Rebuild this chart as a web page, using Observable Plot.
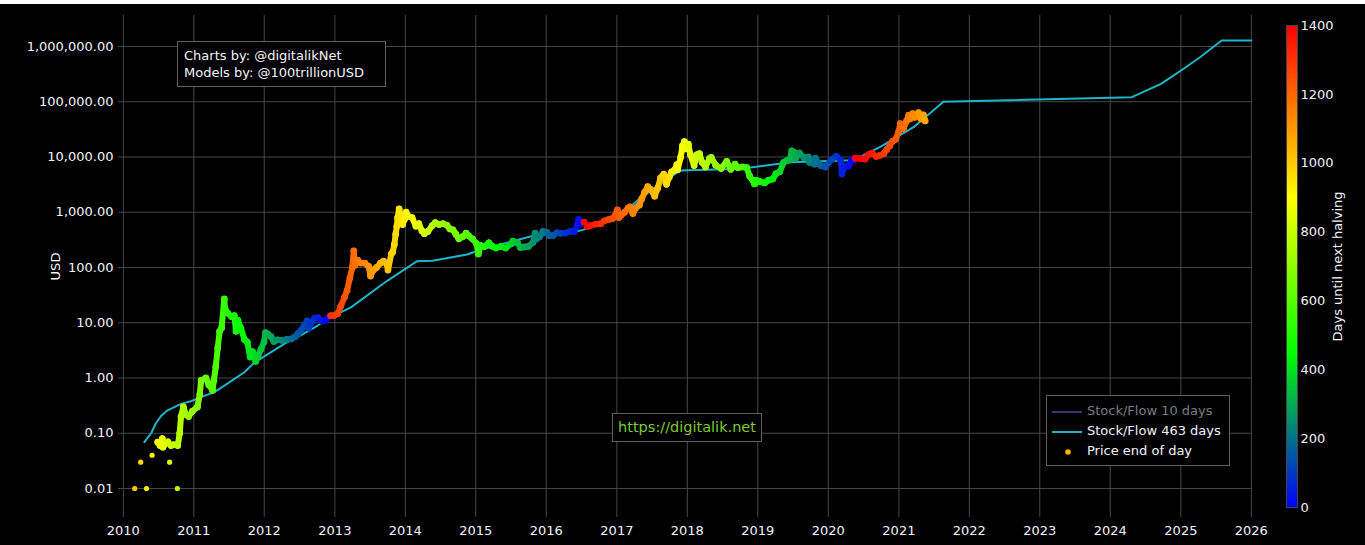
<!DOCTYPE html>
<html>
<head>
<meta charset="utf-8">
<script src="https://cdn.jsdelivr.net/npm/d3@7"></script>
<script src="https://cdn.jsdelivr.net/npm/@observablehq/plot@0.6"></script>
<style>
  html, body { margin: 0; padding: 0; background: #ffffff; }
  #wrap { position: absolute; left: 0; top: 4px; width: 1365px; height: 541px; background: #000; overflow: hidden;
          font-family: "DejaVu Sans", sans-serif; font-size: 13px; color: #f2f5fa; }
  .abs { position: absolute; }
  .box { position: absolute; border: 1px solid #5f5f5f; background: #000; box-sizing: border-box; }
</style>
</head>
<body>
<div id="wrap"></div>
<script>
// ---------- data ----------
const halvingDates = ["2012-11-28", "2016-07-09", "2020-05-11", "2024-04-20"];

// isolated early price points (end of day)
const earlyDates  = ["2010-03-01","2010-04-01","2010-05-01","2010-05-30","2010-08-29","2010-10-08"];
const earlyPrices = [0.01, 0.03, 0.01, 0.04, 0.03, 0.01];

// price end of day
const priceDates = [
"2010-06-28","2010-07-10","2010-07-22","2010-07-25","2010-08-10","2010-08-20","2010-09-05","2010-09-20","2010-10-10","2010-10-20",
"2010-10-27","2010-11-08","2010-11-20","2010-12-05","2010-12-25","2011-01-20","2011-02-01","2011-02-08","2011-03-05","2011-03-20",
"2011-04-08","2011-04-15","2011-04-25","2011-05-05","2011-05-15","2011-05-25","2011-06-08","2011-06-12","2011-06-25","2011-07-15",
"2011-07-30","2011-08-08","2011-08-18","2011-09-02","2011-09-20","2011-10-05","2011-10-20","2011-11-01","2011-11-18","2011-12-01",
"2011-12-15","2011-12-31","2012-01-08","2012-01-20","2012-02-05","2012-02-20","2012-03-10","2012-04-01","2012-04-25","2012-05-20",
"2012-06-10","2012-06-25","2012-07-10","2012-07-25","2012-08-10","2012-08-18","2012-09-01","2012-09-18","2012-10-05","2012-10-25",
"2012-11-15","2012-11-27","2012-12-10","2012-12-28","2013-01-15","2013-02-01","2013-02-20","2013-03-05","2013-03-20","2013-04-01",
"2013-04-09","2013-04-15","2013-04-30","2013-05-15","2013-06-05","2013-06-25","2013-07-05","2013-07-20","2013-08-05","2013-08-25",
"2013-09-10","2013-09-30","2013-10-03","2013-10-20","2013-10-28","2013-11-05","2013-11-12","2013-11-18","2013-11-22","2013-11-30",
"2013-12-07","2013-12-18","2013-12-28","2014-01-05","2014-01-15","2014-02-05","2014-02-25","2014-03-12","2014-03-28","2014-04-10",
"2014-04-28","2014-05-20","2014-06-05","2014-06-25","2014-07-15","2014-08-05","2014-08-20","2014-09-05","2014-09-20","2014-10-05",
"2014-10-25","2014-11-12","2014-11-25","2014-12-15","2015-01-05","2015-01-14","2015-01-25","2015-02-15","2015-03-10","2015-03-25",
"2015-04-15","2015-05-10","2015-06-05","2015-07-05","2015-07-12","2015-08-05","2015-08-20","2015-09-10","2015-10-01","2015-10-25",
"2015-11-04","2015-11-12","2015-11-28","2015-12-15","2016-01-05","2016-01-16","2016-02-05","2016-02-25","2016-03-15","2016-04-10",
"2016-05-05","2016-05-25","2016-06-10","2016-06-17","2016-06-25","2016-07-08","2016-07-15","2016-08-02","2016-08-20","2016-09-15",
"2016-10-10","2016-10-28","2016-11-20","2016-12-10","2016-12-28","2017-01-04","2017-01-12","2017-01-25","2017-02-10","2017-02-28",
"2017-03-10","2017-03-25","2017-04-10","2017-04-28","2017-05-10","2017-05-25","2017-06-10","2017-06-25","2017-07-16","2017-08-01",
"2017-08-15","2017-09-01","2017-09-15","2017-09-30","2017-10-12","2017-10-25","2017-11-08","2017-11-12","2017-11-28","2017-12-07",
"2017-12-17","2017-12-22","2018-01-06","2018-01-17","2018-02-05","2018-02-20","2018-03-05","2018-03-18","2018-04-05","2018-04-25",
"2018-05-05","2018-05-28","2018-06-25","2018-07-24","2018-08-14","2018-09-05","2018-09-20","2018-10-15","2018-11-05","2018-11-20",
"2018-12-15","2018-12-25","2019-01-10","2019-02-05","2019-02-25","2019-03-20","2019-04-05","2019-04-25","2019-05-15","2019-05-30",
"2019-06-15","2019-06-26","2019-07-10","2019-07-17","2019-08-05","2019-08-28","2019-09-20","2019-09-26","2019-10-22","2019-10-26",
"2019-11-22","2019-12-17","2020-01-14","2020-02-12","2020-03-05","2020-03-12","2020-03-25","2020-04-15","2020-04-30","2020-05-10",
"2020-05-20","2020-06-15","2020-07-10","2020-07-28","2020-08-15","2020-09-05","2020-09-25","2020-10-15","2020-10-30","2020-11-15",
"2020-11-30","2020-12-16","2020-12-31","2021-01-08","2021-01-25","2021-02-10","2021-02-21","2021-03-01","2021-03-13","2021-03-25",
"2021-04-13","2021-04-25","2021-05-08","2021-05-12","2021-05-17"];
const priceValues = [
0.069,0.06,0.08,0.056,0.066,0.07,0.06,0.062,0.06,0.1,
0.2,0.3,0.22,0.2,0.25,0.3,0.5,0.9,1.0,0.75,
0.6,0.9,1.6,3.5,7,8,27,18,15,13,
13.5,7,11,8,5,4.5,2.4,3.0,2.0,2.6,
3.3,4.5,6.6,6.2,5.6,4.6,4.9,4.8,5.0,5.1,
5.6,6.4,7.3,8.8,10.8,8.0,10,12,12.4,10.8,
11.2,12.4,13.4,13.5,14.5,20,29,38,65,100,
200,110,135,120,120,105,70,90,100,120,
130,110,90,175,190,260,400,560,800,1150,
900,600,750,1000,850,800,560,620,460,410,
450,570,650,600,620,580,500,480,400,330,
360,420,375,330,270,175,250,240,280,245,
225,240,225,270,300,280,230,235,240,285,
420,330,360,450,430,380,380,425,415,420,
450,450,580,740,620,640,660,550,580,610,
620,700,740,770,950,1100,800,900,1000,1190,
1250,950,1200,1350,1750,2300,2900,2600,1950,2750,
4200,4900,3200,4350,5400,5700,7300,5900,10000,16000,
19000,14000,17000,11000,7000,11000,11500,8000,6600,9300,
9800,7100,6200,8300,6000,7400,6400,6600,6400,4500,
3250,3800,3600,3400,3800,4000,5000,5400,8000,8600,
8800,12900,12000,9500,11800,9700,10000,8000,7400,9500,
7000,6600,8800,10300,9000,4900,6700,6800,8700,8700,
9500,9400,9200,11000,11800,10200,10700,11500,13600,16000,
19400,21000,29000,40000,32500,45000,57000,49000,61000,52500,
63500,49000,58000,49000,45000];

// Stock/Flow 463 days model line
const s2fDates = [
"2010-04-20","2010-05-25","2010-06-18","2010-07-18","2010-08-18","2010-10-27","2010-12-17","2011-02-06","2011-04-16","2011-06-24",
"2011-09-20","2011-11-10","2012-01-20","2012-04-16","2012-07-08","2012-10-04","2012-11-28","2013-03-25","2013-10-01","2014-03-03",
"2014-05-22","2014-11-17","2015-01-26","2015-10-30","2016-05-25","2016-07-09","2017-01-08","2017-05-05","2017-11-25","2018-10-05",
"2019-06-20","2020-04-26","2020-05-11","2020-09-27","2021-03-20","2021-08-20","2024-04-22","2024-09-20","2025-01-15","2025-04-12",
"2025-07-31","2026-01-01"];
const s2fValues = [
0.069,0.1,0.15,0.21,0.26,0.34,0.38,0.45,0.55,0.79,
1.27,1.9,2.7,4.2,5.9,8.9,12,19,58,130,
132,172,209,380,440,480,810,1830,5700,6100,
8050,8700,8800,15200,35000,100000,121000,211000,395000,645000,
1280000,1280000];

const xTickLabels = ["2010","2011","2012","2013","2014","2015","2016","2017","2018","2019","2020","2021","2022","2023","2024","2025","2026"];
const yTickValues = [0.01, 0.1, 1, 10, 100, 1000, 10000, 100000, 1000000];
const colorTicks = [0, 200, 400, 600, 800, 1000, 1200, 1400];

// ---------- derived tables ----------
const parse = s => new Date(s + "T00:00:00Z");
const halvings = halvingDates.map(parse);
const daysUntil = d => {
  const h = halvings.find(h => h > d);
  return (h - d) / 864e5;
};
const trail = priceDates.map((s, i) => {
  const date = parse(s);
  return {date, price: priceValues[i], days: daysUntil(date)};
});
const early = earlyDates.map((s, i) => {
  const date = parse(s);
  return {date, price: earlyPrices[i], days: daysUntil(date)};
});
const segments = trail.slice(0, -1).map((d, i) => ({
  x1: d.date, y1: d.price, x2: trail[i + 1].date, y2: trail[i + 1].price, days: d.days
}));
const s2f = s2fDates.map((s, i) => ({date: parse(s), value: s2fValues[i]}));
const xTicks = xTickLabels.map(y => parse(y + "-01-01"));

const colorScale = {
  type: "linear", domain: [0, 447, 900, 1400],
  range: ["#0000ff", "#00ff00", "#ffff00", "#ff0000"], interpolate: "rgb"
};
const textStyle = {background: "transparent", color: "#f2f5fa", fontFamily: "DejaVu Sans", fontSize: "13px", overflow: "visible"};

// ---------- main chart ----------
const main = Plot.plot({
  width: 1365, height: 541,
  marginLeft: 118, marginRight: 113, marginTop: 11, marginBottom: 28,
  style: textStyle,
  x: {type: "utc", domain: [parse("2009-12-07"), parse("2026-01-07")], ticks: xTicks, tickFormat: "%Y",
      tickSize: 0, tickPadding: 8, label: null},
  y: {type: "log", domain: [0.002985, 3.64e6], ticks: yTickValues, tickFormat: d3.format(",.2f"),
      tickSize: 0, tickPadding: 5, label: "USD", labelAnchor: "center", labelOffset: 68, labelArrow: "none"},
  color: colorScale,
  marks: [
    Plot.gridX(xTicks, {stroke: "#474747", strokeOpacity: 1}),
    Plot.gridY(yTickValues, {stroke: "#474747", strokeOpacity: 1}),
    Plot.line(s2f, {x: "date", y: "value", stroke: "#1fb5c9", strokeWidth: 2}),
    Plot.link(segments, {x1: "x1", y1: "y1", x2: "x2", y2: "y2", stroke: "days", strokeWidth: 6, strokeLinecap: "round"}),
    Plot.dot(trail, {x: "date", y: "price", r: 3.4, fill: "days"}),
    Plot.dot(early, {x: "date", y: "price", r: 2.6, fill: "days"})
  ]
});
main.style.position = "absolute";
main.style.left = "0px";
main.style.top = "0px";

// ---------- colour bar ----------
const bar = Plot.plot({
  width: 89, height: 541,
  marginLeft: 10, marginRight: 68, marginTop: 21, marginBottom: 38,
  style: textStyle,
  x: {domain: [0, 1], axis: null},
  y: {domain: [0, 1400], ticks: colorTicks, tickFormat: d => String(d), tickSize: 0, tickPadding: 3, axis: "right",
      label: "Days until next halving", labelAnchor: "center", labelOffset: 44, labelArrow: "none"},
  color: colorScale,
  marks: [
    Plot.raster({x1: 0, x2: 1, y1: 0, y2: 1400, width: 1, height: 480, fill: (x, y) => y, imageRendering: "auto"}),
    Plot.frame({stroke: "#444", strokeWidth: 1})
  ]
});
bar.style.position = "absolute";
bar.style.left = "1276px";
bar.style.top = "0px";

const wrap = document.getElementById("wrap");
wrap.appendChild(main);
wrap.appendChild(bar);

// ---------- annotations ----------
wrap.insertAdjacentHTML("beforeend", `
  <div class="box" style="left:177px; top:37px; width:209px; height:46px; padding:5px 0 0 6px; line-height:17px;">
    Charts by: @digitalikNet<br>Models by: @100trillionUSD
  </div>
  <div class="box" style="left:612px; top:409px; width:150px; height:29px; line-height:27px; text-align:center; color:#80c832; font-size:14.5px;">
    https://digitalik.net
  </div>
  <div class="box" style="left:1046px; top:391px; width:184px; height:71px;">
    <svg class="abs" style="left:0; top:0;" width="182" height="69">
      <line x1="5" x2="35" y1="16" y2="16" stroke="#3c3870" stroke-width="2"></line>
      <line x1="5" x2="35" y1="36" y2="36" stroke="#1fb5c9" stroke-width="2"></line>
      <circle cx="21" cy="56" r="2.8" fill="#ffb000"></circle>
    </svg>
    <div class="abs" style="left:40px; top:7px; color:#7a7c80;">Stock/Flow 10 days</div>
    <div class="abs" style="left:40px; top:27px;">Stock/Flow 463 days</div>
    <div class="abs" style="left:40px; top:47px;">Price end of day</div>
  </div>
`);
</script>
</body>
</html>
